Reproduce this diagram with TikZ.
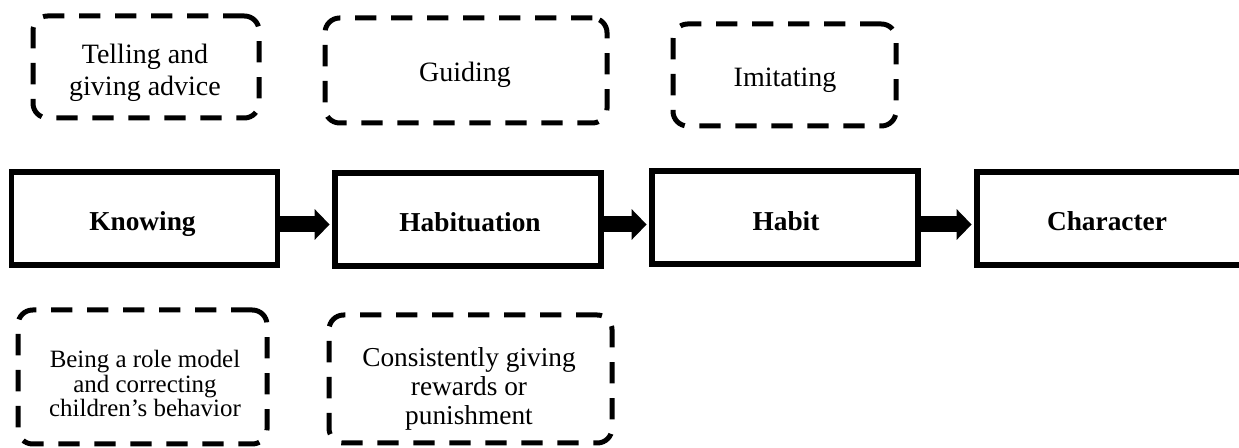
\documentclass[tikz,border=0pt]{standalone}
\usepackage{fontspec}
\setmainfont{Liberation Serif}
\usetikzlibrary{arrows.meta}

\tikzset{every picture/.style={line width=0.75pt}}
\tikzset{
  mainbox/.style={draw, line width=4.1pt, minimum width=199.5pt, minimum height=69.75pt, inner sep=0pt},
  maintext/.style={anchor=base, inner sep=0pt, font=\fontsize{20.5}{24}\selectfont\bfseries},
  ideabox/.style={draw, line width=3.75pt, dash pattern=on 16pt off 11pt, rounded corners=11pt, inner sep=0pt},
  ideatext/.style={anchor=base, inner sep=0pt, align=center, font=\fontsize{21}{24}\selectfont},
  blockarrow/.style={line width=12pt, -{Triangle[length=11.25pt, width=22.5pt]}, shorten >=2pt}
}

\begin{document}
\begin{tikzpicture}[x=0.75pt,y=0.75pt,yscale=-1,xscale=1]
\useasboundingbox (0,0) rectangle (1239,448);

%Main chain
\node [mainbox] (know) at (144.5,218.5) {};
\node [mainbox] (hab) at (468,219.5) {};
\node [mainbox] (habit) at (785,217.5) {};
\node [mainbox] (char) at (1110,218.5) {};
\node [maintext] (know-t) at (142.5,231) {Knowing};
\node [maintext] (hab-t) at (470,232) {Habituation};
\node [maintext] (habit-t) at (786,231) {Habit};
\node [maintext] (char-t) at (1107,231) {Character};

%Upper dashed boxes
\node [ideabox, minimum width=169.5pt, minimum height=76.5pt] (tell) at (146,67) {};
\node [ideabox, minimum width=211.5pt, minimum height=78.75pt] (guide) at (466,70.5) {};
\node [ideabox, minimum width=167.25pt, minimum height=76.5pt] (imit) at (784.5,75) {};
\node [ideatext] (tell-t) at (145,96) {Telling and\\giving advice};
\node [ideatext] (guide-t) at (465,82) {Guiding};
\node [ideatext] (imit-t) at (785,87) {Imitating};

%Lower dashed boxes
\node [ideabox, minimum width=186.75pt, minimum height=100.5pt] (model) at (142.5,377) {};
\node [ideabox, minimum width=212.25pt, minimum height=96pt] (reward) at (470.5,379) {};
\node [ideatext, font=\fontsize{18.7}{18.4}\selectfont] (model-t) at (145,417) {Being a role model\\and correcting\\children’s behavior};
\node [ideatext, font=\fontsize{20.5}{21.75}\selectfont] (reward-t) at (469,425) {Consistently giving\\rewards or\\punishment};

%Arrows
\coordinate (axis) at (0,224.5);
\draw [blockarrow] (know.east |- axis) -- (hab.west |- axis);
\draw [blockarrow] (hab.east |- axis) -- (habit.west |- axis);
\draw [blockarrow] (habit.east |- axis) -- (char.west |- axis);

\end{tikzpicture}
\end{document}
